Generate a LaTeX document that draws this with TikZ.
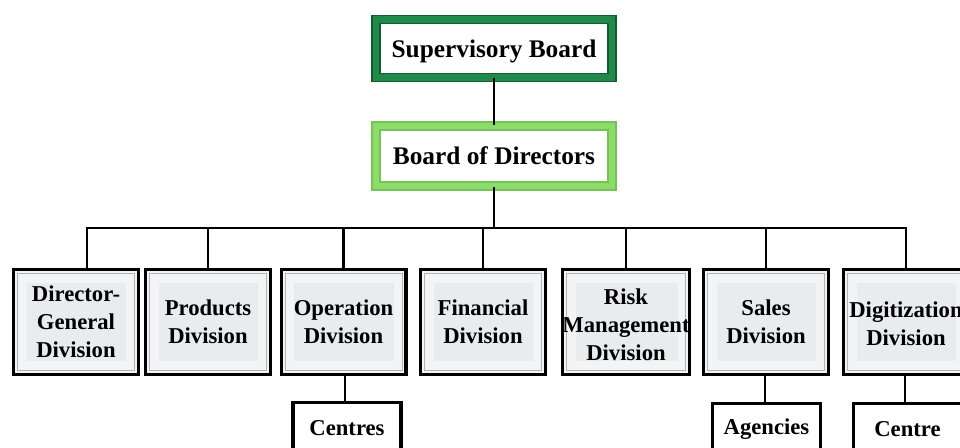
\documentclass[tikz,border=0pt]{standalone}
\usepackage{fontspec}
\setmainfont{Liberation Serif}

\definecolor{sbgreen}{HTML}{1F8A4C}
\definecolor{sbedge}{HTML}{145C30}
\definecolor{bodgreen}{HTML}{8CDC6C}
\definecolor{bodedge}{HTML}{74C455}
\definecolor{divfill}{HTML}{F3F4F5}
\definecolor{divinner}{HTML}{EAEBED}

\tikzset{
  topbox/.style={draw=#1, double=white, line width=0.8pt, double distance=0pt,
    fill=white, minimum width=176pt, minimum height=43pt, inner sep=0pt,
    text depth=0pt, font=\fontsize{19}{22}\selectfont\bfseries},
  divbox/.style={draw, line width=2.4pt, fill=divfill, align=center,
    minimum width=93.6pt, minimum height=78.6pt, inner sep=0pt,
    font=\fontsize{17}{21}\selectfont\bfseries,
    path picture={
      \draw[gray!60, line width=0.6pt]
        ([shift={(3pt,3pt)}]path picture bounding box.south west) rectangle
        ([shift={(-3pt,-3pt)}]path picture bounding box.north east);
      \fill[divinner]
        ([shift={(10pt,10pt)}]path picture bounding box.south west) rectangle
        ([shift={(-9pt,-10pt)}]path picture bounding box.north east);
    }},
  subbox/.style={draw, line width=2.6pt, fill=white, minimum width=81pt,
    minimum height=38pt, inner sep=0pt, font=\fontsize{17}{21}\selectfont\bfseries},
  link/.style={line width=1.9pt}
}

\begin{document}
\begin{tikzpicture}[x=0.75pt, y=-0.75pt]
  \path[use as bounding box, clip] (0,0) rectangle (960,447);
  \fill[white] (0,0) rectangle (960,447);

  % boards
  \node[topbox=sbedge, double=sbgreen, double distance=5.2pt,
        minimum width=177pt, minimum height=43.5pt] (sb) at (494,48.5) {Supervisory Board};
  \node[topbox=bodedge, double=bodgreen, double distance=5.2pt,
        minimum width=177pt, minimum height=45pt] (bod) at (494,156) {Board of Directors};

  % divisions
  \node[divbox] (dg)    at (76,322)    {Director-\\General\\Division};
  \node[divbox] (prod)  at (208,322)   {Products\\Division};
  \node[divbox] (op)    at (343.5,322) {Operation\\Division};
  \node[divbox] (fin)   at (483,322)   {Financial\\Division};
  \node[divbox] (risk)  at (626,322)   {\rule{0pt}{16pt}Risk\\Management\\Division};
  \node[divbox] (sales) at (766,322)   {Sales\\Division};
  \node[divbox] (dig)   at (906,322)   {\rule{0pt}{15pt}Digitization\\Division};

  % units below
  \node[subbox] (centres)  at (347,428)   {Centres};
  \node[subbox] (agencies) at (766.5,429) {Agencies};
  \node[subbox] (centre)   at (907.5,429) {Centre};

  \coordinate (bus) at (494,228);

  \draw[link] (sb) -- (bod);
  \draw[link] (bod) -- (bus);
  \draw[link] ([xshift=8.25pt]dg.north) |- (dig.north |- bus) -- (dig.north);
  \foreach \d in {prod,op,fin,risk,sales}
    \draw[link] (\d.north) -- (\d.north |- bus);

  \draw[link] ([xshift=1pt]op.south) -- ([xshift=1pt]op.south |- centres.north);
  \draw[link] ([xshift=-0.75pt]sales.south) -- ([xshift=-0.75pt]sales.south |- agencies.north);
  \draw[link] ([xshift=-0.75pt]dig.south) -- ([xshift=-0.75pt]dig.south |- centre.north);
\end{tikzpicture}
\end{document}
